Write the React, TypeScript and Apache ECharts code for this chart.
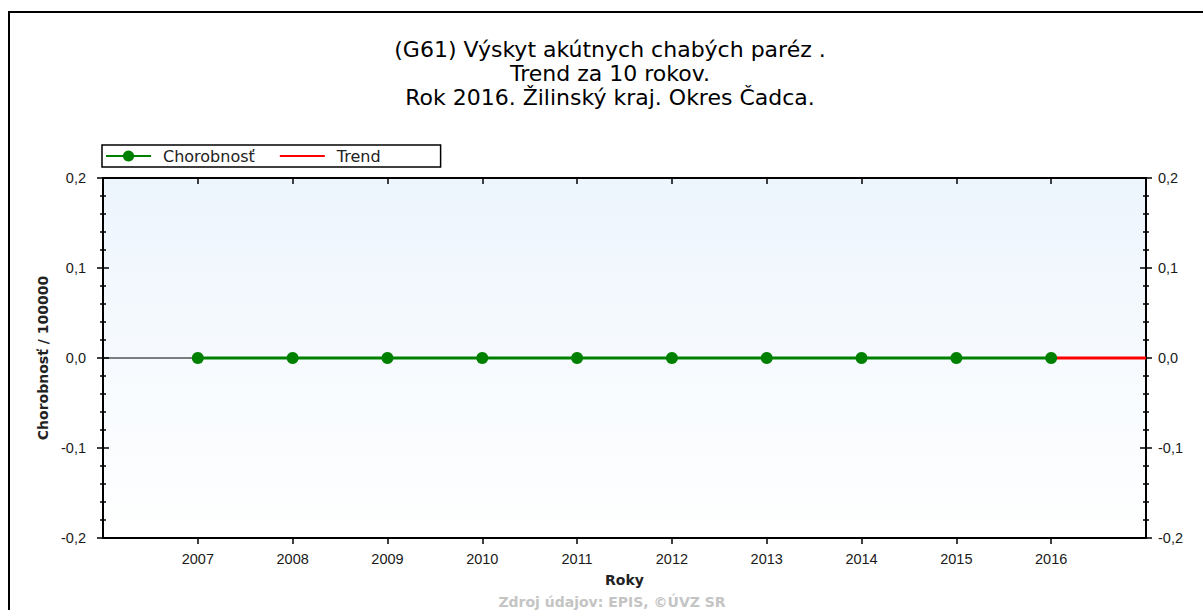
import React, { useEffect, useRef } from 'react';
import * as echarts from 'echarts';

const years = [2007, 2008, 2009, 2010, 2011, 2012, 2013, 2014, 2015, 2016];
const morbidity = [0, 0, 0, 0, 0, 0, 0, 0, 0, 0];
const trendYears = [2016, 2017];
const trendValues = [0, 0];
const zeroLineYears = [2006, 2017];
const zeroLineValues = [0, 0];
const xRange = [2006, 2017];
const yTicks = [-0.2, -0.1, 0, 0.1, 0.2];

const titleLines = [
  '(G61) Výskyt akútnych chabých paréz .',
  'Trend za 10 rokov.',
  'Rok 2016. Žilinský kraj. Okres Čadca.',
];
const seriesNames = ['Chorobnosť', 'Trend'];
const yAxisName = 'Chorobnosť / 100000';
const xAxisName = 'Roky';
const sourceText = 'Zdroj údajov: EPIS, ©ÚVZ SR';

const zip = (xs: number[], ys: number[]) => xs.map((x, i) => [x, ys[i]]);
const fmtY = (v: number) => (Math.abs(v) < 1e-9 ? 0 : v).toFixed(1).replace('.', ',');

const FONT = 'DejaVu Sans';
const LABEL_FONT = 'Liberation Sans';
const AXIS_COLOR = '#000';

export default function App() {
  const ref = useRef<HTMLDivElement>(null);

  useEffect(() => {
    if (!ref.current) return;
    const chart = echarts.init(ref.current, undefined, { renderer: 'svg' });

    const baseY: any = {
      type: 'value',
      min: yTicks[0],
      max: yTicks[yTicks.length - 1],
      interval: 0.1,
      splitLine: { show: false },
      minorSplitLine: { show: false },
    };
    const tickLine = { color: AXIS_COLOR, width: 1.5 };
    const axisLine = { show: true, onZero: false, lineStyle: { color: AXIS_COLOR, width: 2 } };
    const labelStyle = { fontFamily: LABEL_FONT, fontSize: 14.5, color: '#1a1a1a' };

    const baseX: any = {
      type: 'value',
      min: xRange[0],
      max: xRange[1],
      interval: 1,
      splitLine: { show: false },
    };

    const option: any = {
      animation: false,
      backgroundColor: '#ffffff',
      title: [
        {
          text: titleLines.join('\n'),
          left: 610,
          top: 37,
          padding: 0,
          textAlign: 'center',
          textStyle: {
            fontFamily: FONT,
            fontSize: 22,
            fontWeight: 'normal',
            color: '#000',
            lineHeight: 24,
          },
        },
        {
          text: sourceText,
          left: 612,
          top: 595,
          padding: 0,
          textAlign: 'center',
          textStyle: {
            fontFamily: FONT,
            fontSize: 14,
            fontWeight: 'bold',
            color: '#c4c4c4',
            lineHeight: 14,
          },
        },
      ],
      legend: {
        data: [
          { name: seriesNames[0] },
          { name: seriesNames[1], itemStyle: { color: 'rgba(0,0,0,0)', borderWidth: 0, opacity: 0 } },
        ],
        left: 102,
        top: 145,
        orient: 'horizontal',
        borderColor: '#000',
        borderWidth: 1.5,
        borderRadius: 0,
        backgroundColor: '#fff',
        padding: [3, 60, 3, 3],
        itemWidth: 45,
        itemHeight: 14,
        itemGap: 24,
        selectedMode: false,
        textStyle: { fontFamily: FONT, fontSize: 16, color: '#222', padding: [0, 0, 0, 7] },
      },
      grid: {
        left: 103,
        right: 57,
        top: 178,
        bottom: 72,
        show: true,
        borderWidth: 0,
        backgroundColor: new echarts.graphic.LinearGradient(0, 0, 0, 1, [
          { offset: 0, color: '#edf5fd' },
          { offset: 1, color: '#ffffff' },
        ]),
      },
      xAxis: [
        {
          ...baseX,
          position: 'bottom',
          axisLine,
          axisTick: { show: true, inside: false, length: 6, customValues: years, lineStyle: tickLine },
          axisLabel: {
            ...labelStyle,
            margin: 13,
            customValues: years,
            formatter: (v: number) => String(v),
          },
          name: xAxisName,
          nameLocation: 'middle',
          nameGap: 35,
          nameTextStyle: { fontFamily: FONT, fontSize: 14, fontWeight: 'bold', color: '#222' },
        },
        {
          ...baseX,
          position: 'bottom',
          axisLine: { show: false },
          axisTick: { show: true, inside: true, length: 5, customValues: years, lineStyle: tickLine },
          axisLabel: { show: false },
        },
        {
          ...baseX,
          position: 'top',
          axisLine,
          axisTick: { show: true, inside: true, length: 6, customValues: years, lineStyle: tickLine },
          axisLabel: { show: false },
        },
      ],
      yAxis: [
        {
          ...baseY,
          position: 'left',
          axisLine,
          axisTick: { show: true, inside: false, length: 6, lineStyle: tickLine },
          minorTick: { show: true, splitNumber: 5, length: 3, lineStyle: tickLine },
          axisLabel: { ...labelStyle, margin: 17, formatter: fmtY },
          name: yAxisName,
          nameLocation: 'middle',
          nameGap: 45,
          nameTextStyle: { fontFamily: FONT, fontSize: 14, fontWeight: 'bold', color: '#222' },
        },
        {
          ...baseY,
          position: 'left',
          axisLine: { show: false },
          axisTick: { show: true, inside: true, length: 6, lineStyle: tickLine },
          minorTick: { show: true, splitNumber: 5, length: 3, lineStyle: tickLine },
          axisLabel: { show: false },
        },
        {
          ...baseY,
          position: 'right',
          axisLine,
          axisTick: { show: true, inside: false, length: 6, lineStyle: tickLine },
          minorTick: { show: true, splitNumber: 5, length: 3, lineStyle: tickLine },
          axisLabel: { ...labelStyle, margin: 12, formatter: fmtY },
        },
        {
          ...baseY,
          position: 'right',
          axisLine: { show: false },
          axisTick: { show: true, inside: true, length: 6, lineStyle: tickLine },
          minorTick: { show: true, splitNumber: 5, length: 3, lineStyle: tickLine },
          axisLabel: { show: false },
        },
      ],
      series: [
        {
          name: 'zero',
          type: 'line',
          xAxisIndex: 0,
          yAxisIndex: 0,
          data: zip(zeroLineYears, zeroLineValues),
          symbol: 'none',
          silent: true,
          lineStyle: { color: '#000', width: 1.2 },
          z: 1,
        },
        {
          name: seriesNames[1],
          type: 'line',
          xAxisIndex: 0,
          yAxisIndex: 0,
          data: zip(trendYears, trendValues),
          symbol: 'none',
          lineStyle: { color: '#ff0000', width: 3 },
          itemStyle: { color: '#ff0000' },
          z: 2,
        },
        {
          name: seriesNames[0],
          type: 'line',
          xAxisIndex: 0,
          yAxisIndex: 0,
          data: zip(years, morbidity),
          symbol: 'circle',
          symbolSize: 12,
          lineStyle: { color: '#008000', width: 3 },
          itemStyle: { color: '#008000' },
          z: 3,
        },
      ],
      graphic: [
        {
          type: 'rect',
          silent: true,
          z: 100,
          shape: { x: 9, y: 12, width: 1400, height: 800 },
          style: { fill: 'none', stroke: '#000', lineWidth: 2 },
        },
      ],
    };

    chart.setOption(option);
    return () => chart.dispose();
  }, []);

  return (
    <div
      ref={ref}
      style={{ position: 'absolute', left: 0, top: 0, width: 1203, height: 610 }}
    />
  );
}
